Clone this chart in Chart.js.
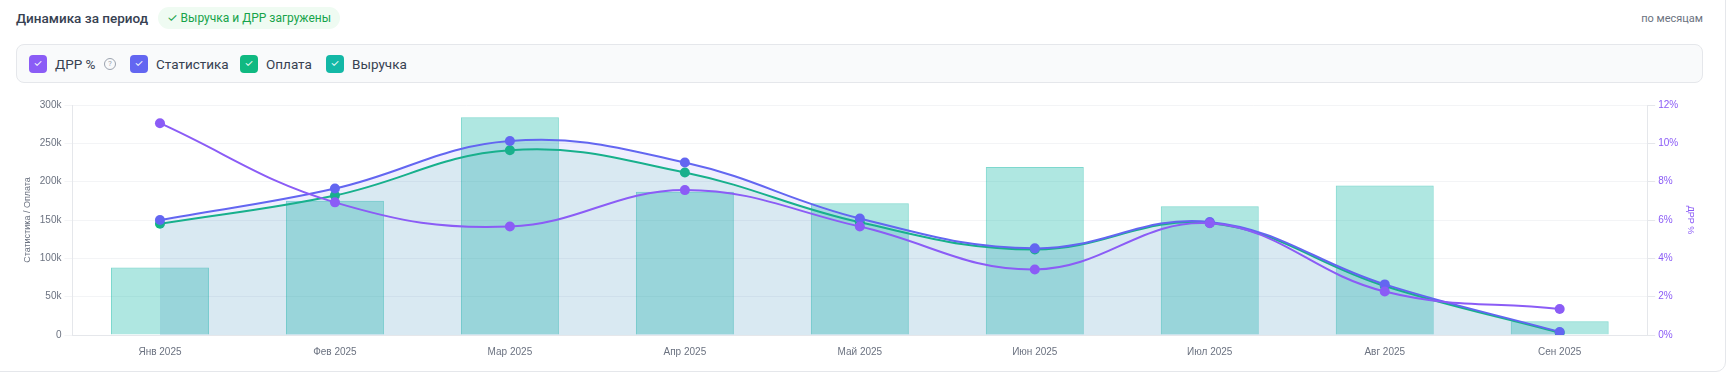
<!DOCTYPE html>
<html>
<head>
<meta charset="utf-8">
<script src="https://cdn.jsdelivr.net/npm/chart.js@4.4.1/dist/chart.umd.min.js"></script>
<style>
	html, body { margin: 0; padding: 0; background: #fff; width: 1732px; height: 375px; overflow: hidden; font-family: Roboto, Inter, sans-serif; }
	.card { position: absolute; left: -12px; top: -12px; width: 1738px; height: 384px; border: 1px solid #e5e7eb; border-radius: 10px; box-sizing: border-box; }
	.title { position: absolute; left: 16px; top: 8px; font-size: 13.5px; font-weight: 500; color: #374151; line-height: 20px; }
	.badge { position: absolute; left: 158px; top: 7px; height: 22px; line-height: 22px; padding: 0 9px; border-radius: 11px; background: #effbf2; color: #16a34a; font-size: 12px; font-weight: 400; }
	.period { position: absolute; right: 29px; top: 12px; font-size: 11px; color: #6b7280; }
	.legend { position: absolute; left: 16px; top: 44px; width: 1687px; height: 39px; box-sizing: border-box; border: 1px solid #e5e7eb; border-radius: 8px; background: #f9fafb; }
	.item { position: absolute; top: 10px; height: 18px; line-height: 18px; font-size: 13.5px; color: #374151; }
	.box { position: absolute; left: 0; top: 0; width: 18px; height: 18px; border-radius: 4px; color: #fff; font-size: 10px; text-align: center; line-height: 18px; }
	.item span.lbl { position: absolute; left: 26px; top: 0; white-space: nowrap; }
	.help { position: absolute; left: 75px; top: 3px; width: 10px; height: 10px; border: 1px solid #9ca3af; border-radius: 50%; font-size: 8px; line-height: 10px; text-align: center; color: #9ca3af; }
	.wrap { position: absolute; left: 18px; top: 96px; width: 1682px; height: 265px; }
</style>
</head>
<body>
<div class="card"></div>
<div class="title">Динамика за период</div>
<div class="badge">✓ Выручка и ДРР загружены</div>
<div class="period">по месяцам</div>
<div class="legend">
	<div class="item" style="left:12px"><div class="box" style="background:#8b5cf6">✓</div><span class="lbl">ДРР %</span><div class="help">?</div></div>
	<div class="item" style="left:113px"><div class="box" style="background:#6366f1">✓</div><span class="lbl">Статистика</span></div>
	<div class="item" style="left:223px"><div class="box" style="background:#10b981">✓</div><span class="lbl">Оплата</span></div>
	<div class="item" style="left:309px"><div class="box" style="background:#14b8a6">✓</div><span class="lbl">Выручка</span></div>
</div>
<div class="wrap"><canvas id="chart"></canvas></div>
<script>
var months = ['Янв 2025', 'Фев 2025', 'Мар 2025', 'Апр 2025', 'Май 2025', 'Июн 2025', 'Июл 2025', 'Авг 2025', 'Сен 2025'];
var vyruchka = [88000, 175000, 284000, 187000, 172000, 219000, 168000, 195000, 18000];
var statistika = [150000, 191000, 253000, 225000, 152000, 113000, 147500, 66000, 4000];
var oplata = [145000, 182000, 241000, 212000, 147000, 111500, 146000, 64000, 3000];
var drr = [11.05, 6.92, 5.66, 7.56, 5.66, 3.42, 5.83, 2.27, 1.36];

function lineSet(label, data, color, fillColor, axis, order) {
	return {
		type: 'line',
		label: label,
		data: data,
		yAxisID: axis,
		borderColor: color,
		backgroundColor: fillColor,
		fill: fillColor ? 'origin' : false,
		borderWidth: 2,
		tension: 0.4,
		pointRadius: 5,
		pointBackgroundColor: color,
		pointBorderColor: color,
		pointBorderWidth: 0,
		order: order
	};
}

var ctx = document.getElementById('chart').getContext('2d');
var chart = new Chart(ctx, {
	data: {
		labels: months,
		datasets: [
			lineSet('ДРР %', drr, '#8b5cf6', null, 'y1', 1),
			lineSet('Статистика', statistika, '#6366f1', 'rgba(99,102,241,0.1)', 'y', 2),
			lineSet('Оплата', oplata, '#10b981', 'rgba(16,185,129,0.1)', 'y', 3),
			{
				type: 'bar',
				label: 'Выручка',
				data: vyruchka,
				yAxisID: 'y',
				backgroundColor: 'rgba(20,184,166,0.34)',
				borderColor: 'rgba(20,184,166,0.55)',
				borderWidth: 1,
				barPercentage: 0.7,
				categoryPercentage: 0.8,
				order: 4
			}
		]
	},
	options: {
		responsive: true,
		maintainAspectRatio: false,
		animation: false,
		plugins: { legend: { display: false }, tooltip: { enabled: false } },
		scales: {
			x: {
				grid: { display: false },
				border: { color: '#e5e7eb' },
				ticks: { color: '#6b7280', font: { size: 10 } }
			},
			y: {
				position: 'left',
				min: 0,
				max: 300000,
				ticks: {
					stepSize: 50000,
					color: '#6b7280',
					font: { size: 10 },
					callback: function (v) { return v === 0 ? '0' : (v / 1000) + 'k'; }
				},
				grid: { color: '#f3f4f6' },
				border: { color: '#e5e7eb' },
				title: { display: true, text: 'Статистика / Оплата', color: '#6b7280', font: { size: 9 } }
			},
			y1: {
				position: 'right',
				min: 0,
				max: 12,
				ticks: {
					stepSize: 2,
					color: '#8b5cf6',
					font: { size: 10 },
					callback: function (v) { return v + '%'; }
				},
				grid: { drawOnChartArea: false, color: '#e5e7eb' },
				border: { color: '#e5e7eb' },
				title: { display: true, text: 'ДРР %', color: '#8b5cf6', font: { size: 9 } }
			}
		}
	}
});
</script>
</body>
</html>
